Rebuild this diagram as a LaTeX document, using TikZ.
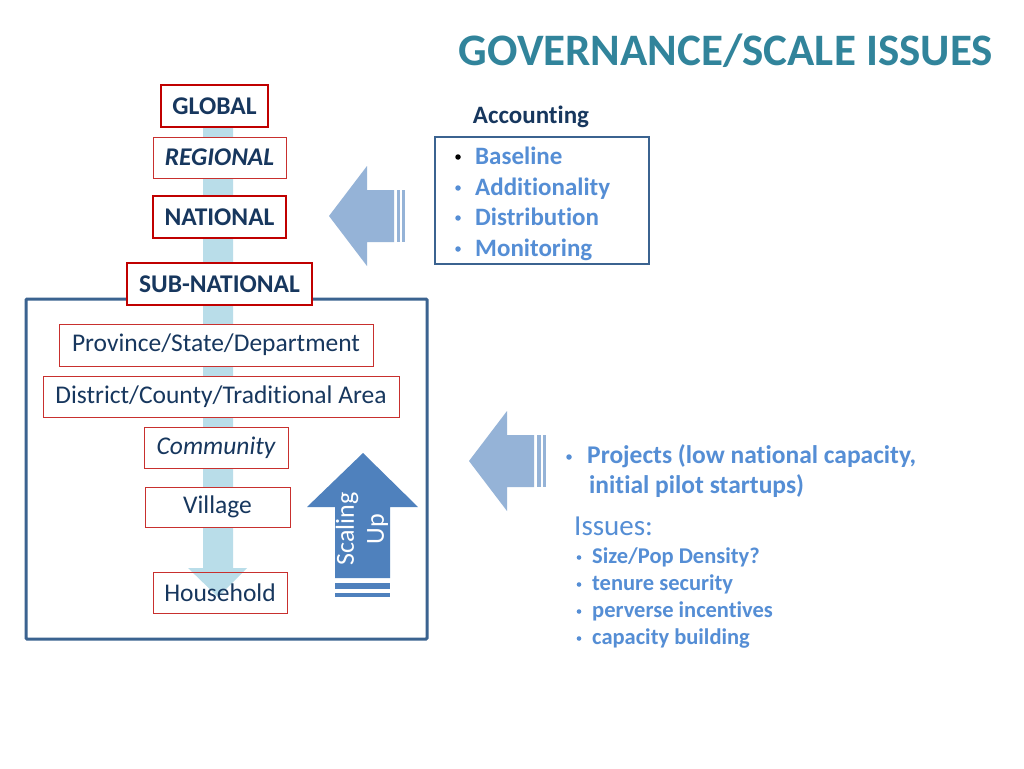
\documentclass[tikz,border=0pt]{standalone}
\usepackage{fontspec}
\setmainfont{Carlito}[Ligatures=NoCommon]
\definecolor{navy}{HTML}{17375E}
\definecolor{ttl}{HTML}{31849B}
\definecolor{bluetxt}{HTML}{558ED5}
\definecolor{redthick}{HTML}{C00000}
\definecolor{redthin}{HTML}{C8302E}
\definecolor{framec}{HTML}{3B6390}
\definecolor{barc}{HTML}{B9DDE9}
\definecolor{arrc}{HTML}{95B3D7}
\definecolor{upc}{HTML}{4F81BD}
\newcommand{\fs}[1]{\fontsize{#1}{#1}\selectfont}
\tikzset{
  lvthick/.style={draw=redthick, line width=2.6pt, fill=white, inner sep=0pt, text=navy, font=\fs{25.5}\bfseries},
  lvthin/.style={draw=redthin, line width=0.9pt, fill=white, inner sep=0pt, text=navy, font=\fs{25.5}},
  bl/.style={anchor=base west, text=bluetxt, inner sep=0pt},
  dotb/.style={circle, fill=bluetxt, inner sep=0pt, minimum size=5.5pt},
  dots/.style={circle, fill=bluetxt, inner sep=0pt, minimum size=4.6pt},
}
\begin{document}
\begin{tikzpicture}[x=1pt,y=-1pt]
\useasboundingbox (0,0) rectangle (1024,768);
\fill[white] (0,0) rectangle (1024,768);
% title
\node[anchor=base east, inner sep=0pt, text=ttl, font=\fs{45}\bfseries] (title) at (993,66) {GOVERNANCE/SCALE ISSUES};
% outer frame
\draw[framec, line width=3pt, rounded corners=1pt] (26,299) rectangle (427,639);
% vertical bar with arrowhead
\fill[barc] (203,120) -- (233,120) -- (233,568) -- (247,568) -- (218,597) -- (188,568) -- (203,568) -- cycle;
% level boxes
\node[lvthick, minimum width=107pt, minimum height=42pt] (global) at (214.5,106) {GLOBAL};
\node[lvthin, minimum width=133pt, minimum height=41pt, font=\fs{25.5}\bfseries\itshape] (regional) at (219.5,157.5) {REGIONAL};
\node[lvthick, minimum width=133pt, minimum height=42pt] (national) at (219.5,217) {NATIONAL};
\node[lvthick, minimum width=185pt, minimum height=42pt] (subnat) at (219.5,284) {SUB-NATIONAL};
\node[lvthin, minimum width=314pt, minimum height=42pt] (prov) at (216,345) {Province/State/Department};
\node[lvthin, minimum width=356pt, minimum height=41pt] (dist) at (221,396.5) {District/County/Traditional Area};
\node[lvthin, minimum width=144pt, minimum height=41pt, font=\fs{25.5}\itshape] (comm) at (216,447.5) {Community};
\node[lvthin, minimum width=145pt, minimum height=40pt] (vill) at (217.5,507) {Village};
\node[lvthin, fill=none, minimum width=134pt, minimum height=41pt] (house) at (220,592.5) {Household};
% scaling up arrow
\fill[upc] (363,453) -- (418,507) -- (390,507) -- (390,578) -- (335,578) -- (335,507) -- (307,507) -- cycle;
\fill[upc] (335,583) rectangle (390,589);
\fill[upc] (335,593) rectangle (390,597);
\node[rotate=90, text=white, align=center, font=\fontsize{26}{30}\selectfont, inner sep=0pt] (scal) at (362,529) {Scaling\\Up};
% upper left arrow
\fill[arrc] (329,216) -- (367,166) -- (367,190) -- (394,190) -- (394,242) -- (367,242) -- (367,266) -- cycle;
\fill[arrc] (397,190) rectangle (400,242);
\fill[arrc] (402,190) rectangle (405,242);
% lower arrow
\fill[arrc] (469,461) -- (507,411) -- (507,435) -- (534,435) -- (534,487) -- (507,487) -- (507,511) -- cycle;
\fill[arrc] (537,435) rectangle (541,487);
\fill[arrc] (543,435) rectangle (546,487);
% accounting
\node[anchor=base, inner sep=0pt, text=navy, font=\fs{25}\bfseries] (acct) at (531,123) {Accounting};
\draw[framec, line width=2.2pt] (435,137) rectangle (649,264);
\begin{scope}[font=\fs{25}\bfseries]
\node[dotb, fill=black] (b1) at (458,157) {};
\node[bl] (t1) at (475,164) {Baseline};
\node[dotb] (b2) at (458,188) {};
\node[bl] (t2) at (475,195) {Additionality};
\node[dotb] (b3) at (458,218) {};
\node[bl] (t3) at (475,225) {Distribution};
\node[dotb] (b4) at (458,249) {};
\node[bl] (t4) at (475,256) {Monitoring};
\end{scope}
\begin{scope}[font=\fs{25.5}\bfseries]
\node[dotb] (pb) at (569,457) {};
\node[bl] (p1) at (587,463) {Projects (low national capacity,};
\node[bl] (p2) at (589,493) {initial pilot startups)};
\end{scope}
\node[bl, font=\fs{29}] (iss) at (574,535) {Issues:};
\begin{scope}[font=\fs{22.5}\bfseries]
\node[dots] (c1) at (579,557.5) {};
\node[bl] (s1) at (592,563) {Size/Pop Density?};
\node[dots] (c2) at (579,584.5) {};
\node[bl] (s2) at (592,590) {tenure security};
\node[dots] (c3) at (579,611.5) {};
\node[bl] (s3) at (592,617) {perverse incentives};
\node[dots] (c4) at (579,638.5) {};
\node[bl] (s4) at (592,644) {capacity building};
\end{scope}
\end{tikzpicture}
\end{document}
